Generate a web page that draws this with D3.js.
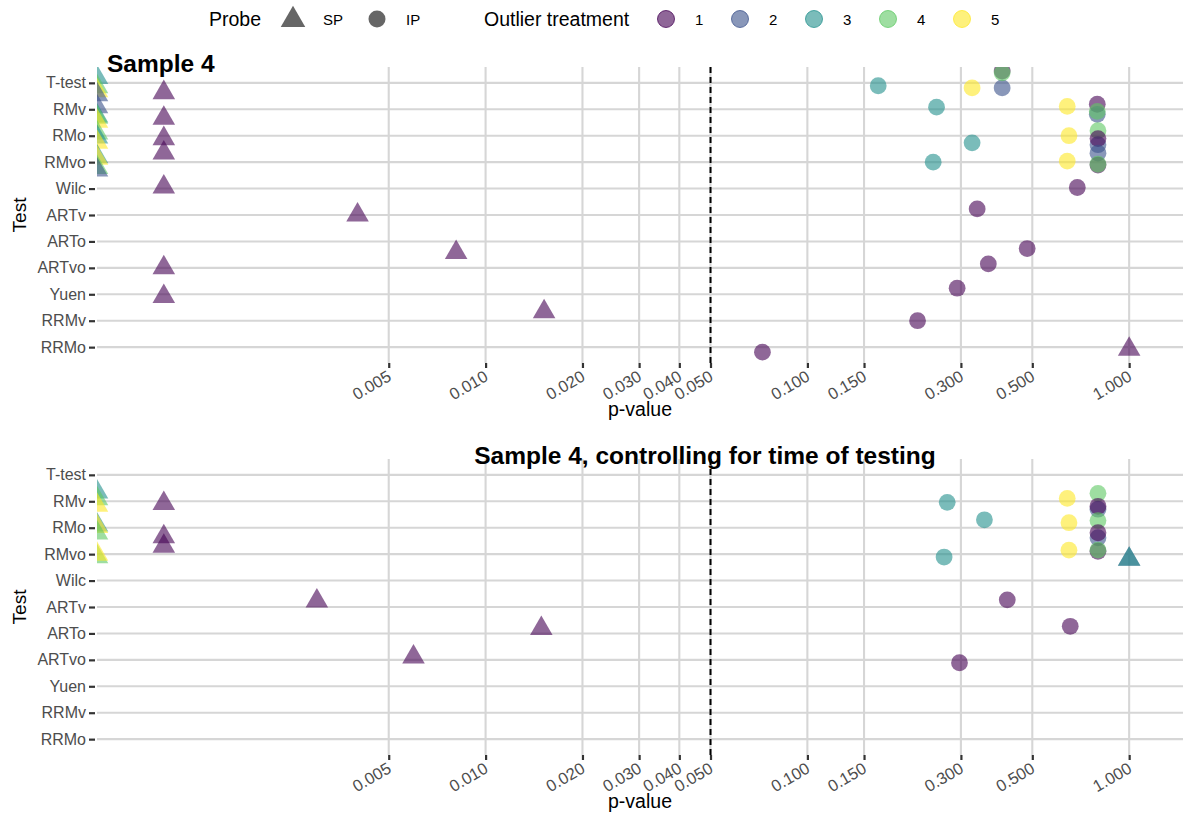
<!DOCTYPE html>
<html>
<head>
<meta charset="utf-8">
<script src="https://cdn.jsdelivr.net/npm/d3@7"></script>
<style>
  html, body { margin: 0; padding: 0; background: #ffffff; }
  svg { display: block; font-family: "Liberation Sans", Arial, sans-serif; }
</style>
</head>
<body>
<svg id="chart" width="1184" height="824"></svg>
<script>
// ---------------- data ----------------
const tests = ["T-test", "RMv", "RMo", "RMvo", "Wilc", "ARTv", "ARTo", "ARTvo", "Yuen", "RRMv", "RRMo"];
const xBreaks = [0.005, 0.01, 0.02, 0.03, 0.04, 0.05, 0.1, 0.15, 0.3, 0.5, 1];
const xTickLabels = ["0.005", "0.010", "0.020", "0.030", "0.040", "0.050", "0.100", "0.150", "0.300", "0.500", "1.000"];
const xLimits = [0.00062, 1.47];
const alphaLevel = 0.05;
const probes = ["SP", "IP"];
const treatments = ["1", "2", "3", "4", "5"];
const treatmentColors = ["#440154", "#3B528B", "#21908C", "#5DC863", "#FDE725"];
const panelTitles = ["Sample 4", "Sample 4, controlling for time of testing"];
const tiny = 1e-6; // p-values below the axis limit (squished to the left edge)

// [test, p-value, probe, outlier treatment, vertical jitter (row units, + = up)]
const sample4 = [
  ["T-test", tiny, "SP", "3", 0.2], ["T-test", tiny, "SP", "4", -0.15], ["T-test", tiny, "SP", "5", -0.3], ["T-test", tiny, "SP", "2", -0.45],
  ["RMv", tiny, "SP", "2", 0.1], ["RMv", tiny, "SP", "3", -0.25], ["RMv", tiny, "SP", "4", -0.3], ["RMv", tiny, "SP", "5", -0.45],
  ["RMo", tiny, "SP", "4", 0.1], ["RMo", tiny, "SP", "3", -0.05], ["RMo", tiny, "SP", "5", -0.25],
  ["RMvo", tiny, "SP", "3", 0.2], ["RMvo", tiny, "SP", "5", 0.15], ["RMvo", tiny, "SP", "4", -0.2], ["RMvo", tiny, "SP", "2", -0.3],
  ["T-test", 0.001, "SP", "1", -0.37], ["RMv", 0.001, "SP", "1", -0.34], ["RMo", 0.001, "SP", "1", -0.11],
  ["RMvo", 0.001, "SP", "1", 0.35], ["Wilc", 0.001, "SP", "1", 0.06], ["ARTvo", 0.001, "SP", "1", 0.0],
  ["Yuen", 0.001, "SP", "1", -0.08],
  ["ARTv", 0.0040, "SP", "1", 0.0], ["ARTo", 0.0081, "SP", "1", -0.42],
  ["RRMv", 0.0152, "SP", "1", 0.34], ["RRMo", 1.0, "SP", "1", -0.08],
  ["T-test", 0.166, "IP", "3", -0.11], ["T-test", 0.325, "IP", "5", -0.19], ["T-test", 0.403, "IP", "2", -0.19],
  ["T-test", 0.403, "IP", "1", 0.45], ["T-test", 0.403, "IP", "4", 0.38],
  ["RMv", 0.252, "IP", "3", 0.08], ["RMv", 0.642, "IP", "5", 0.11], ["RMv", 0.796, "IP", "1", 0.19],
  ["RMv", 0.796, "IP", "2", -0.19], ["RMv", 0.796, "IP", "4", -0.08],
  ["RMo", 0.325, "IP", "3", -0.27], ["RMo", 0.65, "IP", "5", 0.0], ["RMo", 0.8, "IP", "4", 0.19],
  ["RMo", 0.8, "IP", "2", -0.34], ["RMo", 0.8, "IP", "1", -0.11],
  ["RMvo", 0.246, "IP", "3", 0.0], ["RMvo", 0.642, "IP", "5", 0.04], ["RMvo", 0.8, "IP", "2", 0.34],
  ["RMvo", 0.8, "IP", "1", -0.11], ["RMvo", 0.8, "IP", "4", -0.08],
  ["Wilc", 0.69, "IP", "1", 0.04], ["ARTv", 0.337, "IP", "1", 0.23], ["ARTo", 0.482, "IP", "1", -0.27],
  ["ARTvo", 0.365, "IP", "1", 0.15], ["Yuen", 0.292, "IP", "1", 0.23], ["RRMv", 0.22, "IP", "1", 0.0],
  ["RRMo", 0.0725, "IP", "1", -0.19]
];

const sample4Time = [
  ["RMv", tiny, "SP", "3", 0.35], ["RMv", tiny, "SP", "4", 0.1], ["RMv", tiny, "SP", "5", -0.15],
  ["RMo", tiny, "SP", "3", 0.1], ["RMo", tiny, "SP", "5", 0.05], ["RMo", tiny, "SP", "4", -0.2],
  ["RMvo", tiny, "SP", "4", -0.1], ["RMvo", tiny, "SP", "5", 0.0],
  ["RMv", 0.001, "SP", "1", -0.08], ["RMo", 0.001, "SP", "1", -0.34], ["RMvo", 0.001, "SP", "1", 0.3],
  ["ARTv", 0.00299, "SP", "1", 0.23], ["ARTo", 0.0149, "SP", "1", 0.19], ["ARTvo", 0.00597, "SP", "1", 0.11],
  ["RMvo", 1.0, "SP", "2", -0.19], ["RMvo", 1.0, "SP", "3", -0.19],
  ["RMv", 0.272, "IP", "3", -0.04], ["RMv", 0.642, "IP", "5", 0.11], ["RMv", 0.8, "IP", "4", 0.3],
  ["RMv", 0.8, "IP", "2", -0.3], ["RMv", 0.8, "IP", "1", -0.19],
  ["RMo", 0.355, "IP", "3", 0.3], ["RMo", 0.65, "IP", "5", 0.19], ["RMo", 0.8, "IP", "4", 0.27],
  ["RMo", 0.8, "IP", "2", -0.38], ["RMo", 0.8, "IP", "1", -0.19],
  ["RMvo", 0.266, "IP", "3", -0.11], ["RMvo", 0.65, "IP", "5", 0.15], ["RMvo", 0.8, "IP", "1", 0.11],
  ["RMvo", 0.8, "IP", "4", 0.15],
  ["ARTv", 0.418, "IP", "1", 0.27], ["ARTo", 0.656, "IP", "1", 0.27], ["ARTvo", 0.297, "IP", "1", -0.11]
];

const panelData = [sample4, sample4Time];

// ---------------- drawing ----------------
const svg = d3.select("#chart");
const panelLeft = 97, panelRight = 1183;
const panelTops = [67, 459];
const panelH = 296;
const pointAlpha = 0.6;
const FONT = "Liberation Sans, Arial, sans-serif";

const x = d3.scaleLog().domain(xLimits).range([panelLeft, panelRight]).clamp(true);
const color = d3.scaleOrdinal().domain(treatments).range(treatmentColors);
const triSize = 220, circR = 8.4;
const triPath = d3.symbol().type(d3.symbolTriangle).size(triSize)();

panelData.forEach((data, pi) => {
  const top = panelTops[pi];
  const y = d3.scalePoint().domain(tests).range([top, top + panelH]).padding(0.6);
  const step = y.step();
  const g = svg.append("g");

  const clipId = "clip" + pi;
  svg.append("clipPath").attr("id", clipId).append("rect")
    .attr("x", panelLeft).attr("y", top).attr("width", panelRight - panelLeft).attr("height", panelH);

  // grid
  g.selectAll(".hg").data(tests).join("line")
    .attr("x1", panelLeft).attr("x2", panelRight)
    .attr("y1", d => y(d)).attr("y2", d => y(d))
    .attr("stroke", "#d6d6d6").attr("stroke-width", 2.1);
  g.selectAll(".vg").data(xBreaks).join("line")
    .attr("x1", d => x(d)).attr("x2", d => x(d))
    .attr("y1", top).attr("y2", top + panelH)
    .attr("stroke", "#d6d6d6").attr("stroke-width", 2.1);

  // dashed alpha line
  g.append("line")
    .attr("x1", x(alphaLevel)).attr("x2", x(alphaLevel))
    .attr("y1", top).attr("y2", top + panelH)
    .attr("stroke", "#000").attr("stroke-width", 2).attr("stroke-dasharray", "6,4");

  // y axis
  const yAxis = d3.axisLeft(y).tickSize(6).tickPadding(3);
  const ya = g.append("g").attr("transform", `translate(${panelLeft - 2},0)`).call(yAxis);
  ya.attr("font-size", null).attr("font-family", null);
  ya.select(".domain").remove();
  ya.selectAll(".tick line").attr("stroke", "#333").attr("stroke-width", 2.2);
  ya.selectAll(".tick text").style("font-size", "16px").attr("fill", "#4d4d4d")
    .style("font-family", FONT);

  // x axis
  const xAxis = d3.axisBottom(x).tickValues(xBreaks).tickFormat((d, i) => xTickLabels[i]).tickSize(5).tickPadding(3);
  const xa = g.append("g").attr("transform", `translate(0,${top + panelH})`).call(xAxis);
  xa.attr("font-size", null).attr("font-family", null);
  xa.select(".domain").remove();
  xa.selectAll(".tick line").attr("stroke", "#333").attr("stroke-width", 2.2);
  xa.selectAll(".tick text")
    .style("font-size", "16.5px").attr("fill", "#4d4d4d")
    .style("font-family", FONT)
    .attr("text-anchor", "end")
    .attr("dy", null).attr("y", null)
    .attr("transform", "translate(1,13) rotate(-30)")
    .attr("dominant-baseline", "middle");

  // axis titles
  g.append("text").attr("x", (panelLeft + panelRight) / 2).attr("y", top + panelH + 53)
    .attr("text-anchor", "middle").style("font-size", "19.5px").attr("fill", "#000").text("p-value");
  g.append("text").attr("transform", `translate(26,${top + panelH / 2}) rotate(-90)`)
    .attr("text-anchor", "middle").style("font-size", "19px").attr("fill", "#000").text("Test");

  // points
  const pts = g.append("g").attr("clip-path", `url(#${clipId})`);
  data.forEach(([test, p, probe, trt, jit]) => {
    const cx = x(p), cy = y(test) - jit * step;
    if (probe === "SP") {
      pts.append("path").attr("d", triPath).attr("transform", `translate(${cx},${cy})`)
        .attr("fill", color(trt)).attr("fill-opacity", pointAlpha);
    } else {
      pts.append("circle").attr("cx", cx).attr("cy", cy).attr("r", circR)
        .attr("fill", color(trt)).attr("fill-opacity", pointAlpha);
    }
  });
});

// panel titles
svg.append("text").attr("x", 107).attr("y", 72).style("font-size", "24.5px").attr("font-weight", "bold")
  .attr("fill", "#000").text(panelTitles[0]);
svg.append("text").attr("x", 705).attr("y", 464).attr("text-anchor", "middle").style("font-size", "24.5px")
  .attr("font-weight", "bold").attr("fill", "#000").text(panelTitles[1]);

// legend
const lg = svg.append("g");
const ly = 19;
lg.append("text").attr("x", 209).attr("y", ly).attr("dominant-baseline", "central")
  .style("font-size", "19.5px").attr("fill", "#000").text("Probe");
const probeLegendX = [293, 377];
const probeLabelX = [323, 406];
probes.forEach((pr, i) => {
  if (pr === "SP") {
    lg.append("path").attr("d", d3.symbol().type(d3.symbolTriangle).size(260)())
      .attr("transform", `translate(${probeLegendX[i]},${ly + 1})`).attr("fill", "#555").attr("fill-opacity", 0.9);
  } else {
    lg.append("circle").attr("cx", probeLegendX[i]).attr("cy", ly).attr("r", 8.5)
      .attr("fill", "#555").attr("fill-opacity", 0.9);
  }
  lg.append("text").attr("x", probeLabelX[i]).attr("y", ly).attr("dominant-baseline", "central")
    .style("font-size", "15px").attr("fill", "#000").text(pr);
});
lg.append("text").attr("x", 484).attr("y", ly).attr("dominant-baseline", "central")
  .style("font-size", "19.5px").attr("fill", "#000").text("Outlier treatment");
treatments.forEach((t, i) => {
  const cx = 666 + i * 74;
  lg.append("circle").attr("cx", cx).attr("cy", ly).attr("r", 8.5)
    .attr("fill", color(t)).attr("fill-opacity", pointAlpha)
    .attr("stroke", color(t)).attr("stroke-opacity", 0.75).attr("stroke-width", 1);
  lg.append("text").attr("x", cx + 29).attr("y", ly).attr("dominant-baseline", "central")
    .attr("text-anchor", "start").style("font-size", "15px").attr("fill", "#000").text(t);
});
</script>
</body>
</html>
